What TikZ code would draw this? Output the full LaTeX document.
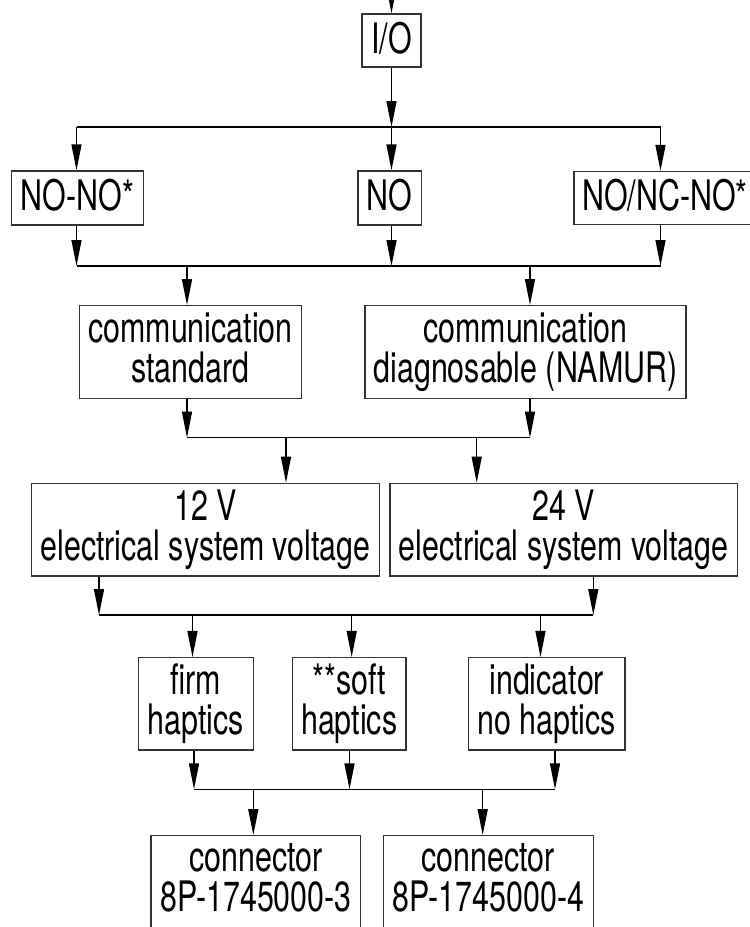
\documentclass[tikz,border=0pt]{standalone}
\usepackage{fontspec}
\setmainfont{TeX Gyre Heros}[FakeStretch=0.724]
\usetikzlibrary{arrows.meta, calc}

\begin{document}
\begin{tikzpicture}[x=1pt,y=-1pt,
  B/.style={draw=black!80,line width=1.4pt,inner sep=2pt,align=center,
            font=\fontsize{42}{40}\selectfont,
            execute at begin node={\rule{0pt}{34.5pt}},
            execute at end node={\rule[-9pt]{0pt}{0pt}}},
  arr/.style={-{Triangle[length=26pt,width=10pt]},line width=1.4pt},
  bus/.style={line width=1.4pt}]

\useasboundingbox (0,0) rectangle (750,927);
\clip (0,0) rectangle (750,927);

% boxes, top to bottom
\node[B,minimum width=59pt,minimum height=53pt] (IO) at (391.5,40.5) {I/O};

\node[B,minimum width=131.5pt,minimum height=54pt] (NN) at (77.5,198) {NO-NO*};
\node[B,minimum width=63.5pt,minimum height=54pt] (NO) at (389.7,198) {NO};
\node[B,minimum width=182pt,minimum height=53pt] (NC) at (665,198) {NO/NC-NO*};

\node[B,minimum width=222.4pt,minimum height=92.5pt] (CS) at (190.5,352)
  {communication\\standard};
\node[B,minimum width=321pt,minimum height=92.5pt] (CD) at (525.5,352)
  {communication\\diagnosable (NAMUR)};

\node[B,minimum width=347.6pt,minimum height=92.7pt] (V12) at (205.5,529.7)
  {12 V\\electrical system voltage};
\node[B,minimum width=347.3pt,minimum height=92.7pt] (V24) at (563.7,529.7)
  {24 V\\electrical system voltage};

\node[B,minimum width=115pt,minimum height=92.3pt] (HF) at (195.8,703.8)
  {firm\\haptics};
\node[B,minimum width=113.7pt,minimum height=92.3pt] (HS) at (349.2,703.8)
  {**soft\\haptics};
\node[B,minimum width=156.7pt,minimum height=92.3pt] (HI) at (546.7,703.8)
  {indicator\\no haptics};

\node[B,minimum width=209.7pt,minimum height=92.5pt] (C3) at (255.9,882)
  {connector\\8P-1745000-3};
\node[B,minimum width=210pt,minimum height=92.5pt] (C4) at (488.3,882)
  {connector\\8P-1745000-4};

% feed from above
\coordinate (in) at (391.5,-20);
\draw[arr] (in) -- (IO);

% bus 1
\coordinate (a1) at (76.5,127);
\coordinate (a2) at (391.5,127);
\coordinate (a3) at (660.5,127);
\draw[arr] (IO) -- (a2);
\draw[bus] (a1) -- (a3);
\foreach \p/\n in {a1/NN,a2/NO,a3/NC}
  \draw[arr] (\p) -- (\p |- \n.north);

% bus 2
\coordinate (b1) at (76.5,266);
\coordinate (b2) at (391.5,266);
\coordinate (b3) at (660.5,266);
\coordinate (b4) at (187,266);
\coordinate (b5) at (530,266);
\foreach \p/\n in {b1/NN,b2/NO,b3/NC}
  \draw[arr] (\p |- \n.south) -- (\p);
\draw[bus] (b1) -- (b3);
\foreach \p/\n in {b4/CS,b5/CD}
  \draw[arr] (\p) -- (\p |- \n.north);

% bus 3
\coordinate (c1) at (187,437.7);
\coordinate (c2) at (530,437.7);
\coordinate (c3) at (286,437.7);
\coordinate (c4) at (476.7,437.7);
\foreach \p/\n in {c1/CS,c2/CD}
  \draw[arr] (\p |- \n.south) -- (\p);
\draw[bus] (c1) -- (c2);
\foreach \p/\n in {c3/V12,c4/V24}
  \draw[arr] (\p) -- (\p |- \n.north);

% bus 4
\coordinate (d1) at (99,615);
\coordinate (d2) at (593.3,615);
\coordinate (d3) at (192.5,615);
\coordinate (d4) at (351.7,615);
\coordinate (d5) at (540.5,615);
\foreach \p/\n in {d1/V12,d2/V24}
  \draw[arr] (\p |- \n.south) -- (\p);
\draw[bus] (d1) -- (d2);
\foreach \p/\n in {d3/HF,d4/HS,d5/HI}
  \draw[arr] (\p) -- (\p |- \n.north);

% bus 5
\coordinate (e1) at (194,789.3);
\coordinate (e2) at (349.5,789.3);
\coordinate (e3) at (555,789.3);
\coordinate (e4) at (253.3,789.3);
\coordinate (e5) at (482.7,789.3);
\foreach \p/\n in {e1/HF,e2/HS,e3/HI}
  \draw[arr] (\p |- \n.south) -- (\p);
\draw[bus] (e1) -- (e3);
\foreach \p/\n in {e4/C3,e5/C4}
  \draw[arr] (\p) -- (\p |- \n.north);
\end{tikzpicture}
\end{document}
